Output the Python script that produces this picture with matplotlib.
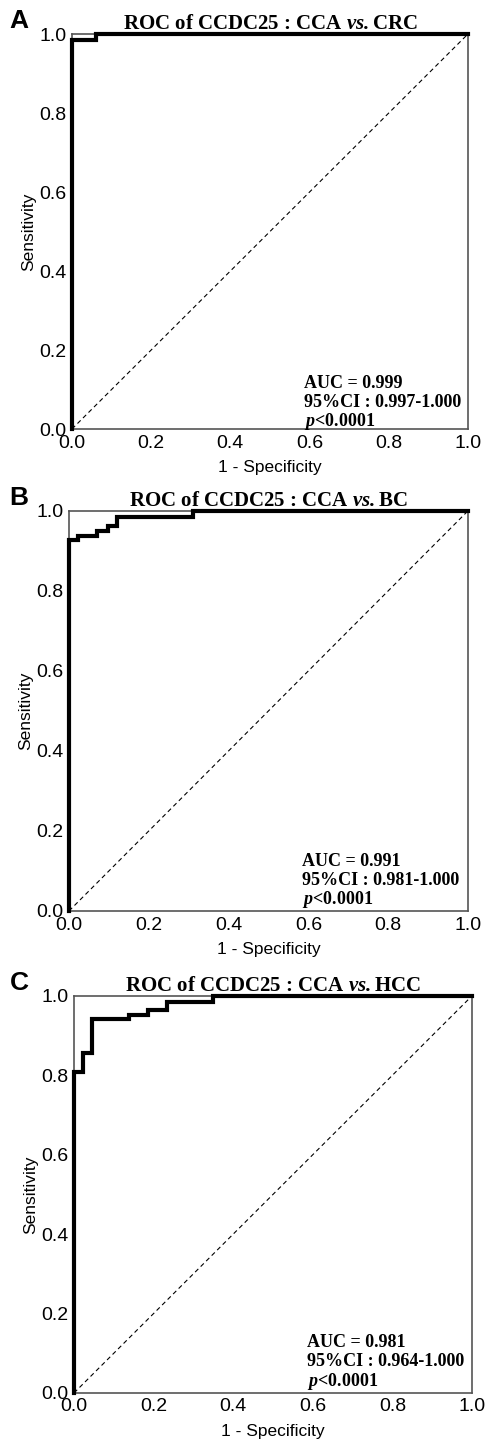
import matplotlib
matplotlib.use('Agg')
import matplotlib.pyplot as plt

plt.rcParams['font.family'] = ['Liberation Sans', 'DejaVu Sans']
plt.rcParams['mathtext.fontset'] = 'custom'
plt.rcParams['mathtext.rm'] = 'Liberation Serif:bold'
plt.rcParams['mathtext.bf'] = 'Liberation Serif:bold'
plt.rcParams['mathtext.it'] = 'Liberation Serif:italic:bold'
plt.rcParams['mathtext.bfit'] = 'Liberation Serif:italic:bold'

# ROC 曲線資料 (1 - specificity, sensitivity) 的階梯轉折點
fpr_crc = [0.0, 0.0, 0.06, 1.0]
tpr_crc = [0.0, 0.985, 1.0, 1.0]

fpr_bc = [0.0, 0.0, 0.023, 0.069, 0.099, 0.121, 0.31, 1.0]
tpr_bc = [0.0, 0.928, 0.938, 0.951, 0.963, 0.984, 1.0, 1.0]

fpr_hcc = [0.0, 0.0, 0.022, 0.046, 0.139, 0.187, 0.233, 0.349, 1.0]
tpr_hcc = [0.0, 0.808, 0.856, 0.942, 0.952, 0.965, 0.986, 1.0, 1.0]

letters = ['A', 'B', 'C']
groups = ['CRC', 'BC', 'HCC']
auc = ['0.999', '0.991', '0.981']
ci = ['0.997-1.000', '0.981-1.000', '0.964-1.000']
pval = ['<0.0001', '<0.0001', '<0.0001']
ticks = [0.0, 0.2, 0.4, 0.6, 0.8, 1.0]

curves = [(fpr_crc, tpr_crc), (fpr_bc, tpr_bc), (fpr_hcc, tpr_hcc)]

# 各子圖在畫布上的位置 (left, bottom, width, height)
positions = [
    [0.1478, 0.7027, 0.813, 0.2737],
    [0.1417, 0.3687, 0.819, 0.2772],
    [0.1520, 0.0347, 0.817, 0.2751],
]
text_y = [[0.116, 0.068, 0.020], [0.1225, 0.075, 0.0275], [0.128, 0.078, 0.030]]

fig = plt.figure(figsize=(4.87, 14.43), dpi=100)

for i in range(3):
    ax = fig.add_axes(positions[i])
    fpr, tpr = curves[i]
    ax.plot([0, 1], [0, 1], color='black', linestyle=(0, (4, 3)), linewidth=0.8)
    ax.plot(fpr, tpr, drawstyle='steps-post', color='black', linewidth=3.0,
            clip_on=False, zorder=5, solid_joinstyle='miter')
    ax.set_xlim(0, 1)
    ax.set_ylim(0, 1)
    ax.set_xticks(ticks)
    ax.set_yticks(ticks)
    ax.set_xticklabels([f'{t:.1f}' for t in ticks])
    ax.set_yticklabels([f'{t:.1f}' for t in ticks])
    ax.tick_params(axis='both', length=0, labelsize=14, pad=4)
    ax.tick_params(axis='x', pad=4)
    for spine in ax.spines.values():
        spine.set_linewidth(1.2)
        spine.set_color('#555555')
    ax.set_xlabel('1 - Specificity', fontsize=12.5, labelpad=6)
    ax.set_ylabel('Sensitivity', fontsize=12.5, labelpad=2)
    ax.set_title('ROC of CCDC25 : CCA $\\mathbfit{vs.}$' + groups[i],
                 fontsize=15, fontweight='bold', family='Liberation Serif', pad=1)
    ax.text(0.585, text_y[i][0], 'AUC = ' + auc[i], transform=ax.transAxes,
            fontsize=13, fontweight='bold', family='Liberation Serif', va='center')
    ax.text(0.585, text_y[i][1], '95%CI : ' + ci[i], transform=ax.transAxes,
            fontsize=13, fontweight='bold', family='Liberation Serif', va='center')
    ax.text(0.585, text_y[i][2], '$\\mathbfit{p}$' + pval[i], transform=ax.transAxes,
            fontsize=13, fontweight='bold', family='Liberation Serif', va='center')
    # 子圖編號
    x0, y0, w, h = positions[i]
    fig.text(0.02, y0 + h + 0.0005, letters[i], fontsize=19, fontweight='bold',
             ha='left', va='bottom')

plt.savefig('out.png', dpi=100)
